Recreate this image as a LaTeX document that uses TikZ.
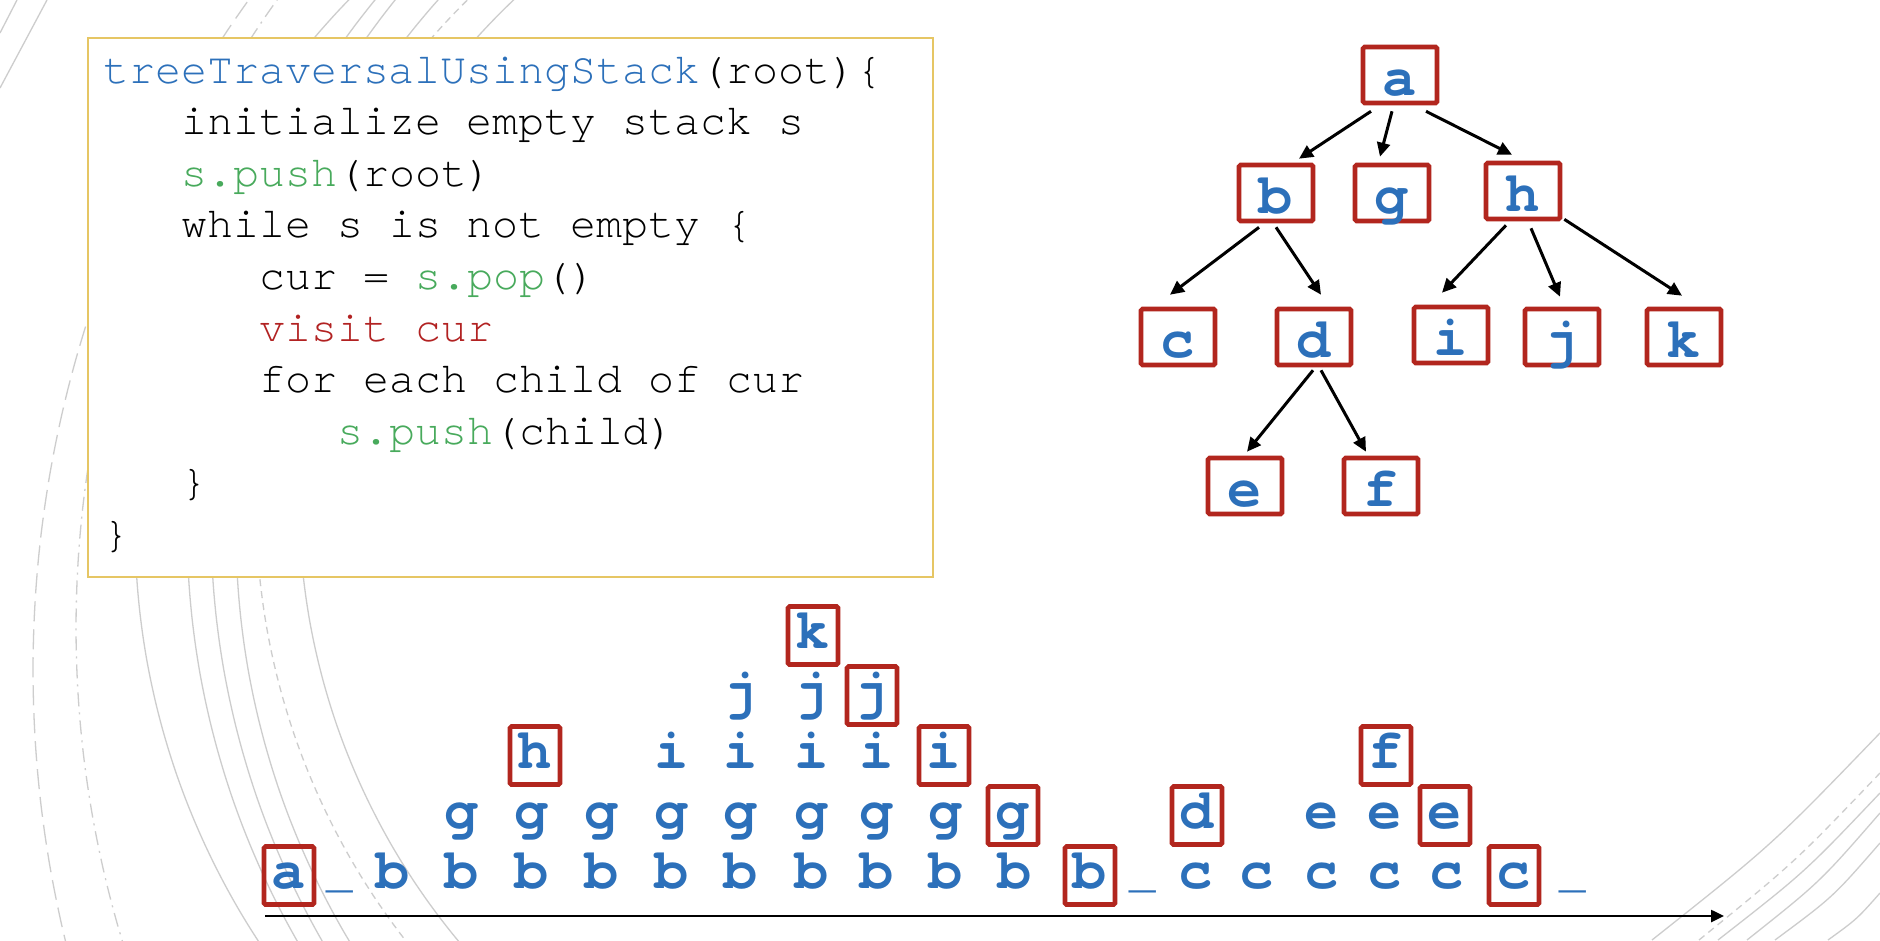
\documentclass[tikz,border=0pt]{standalone}
\usepackage{fontspec}
\newfontfamily\codefont{texgyrecursor}[Extension=.otf, UprightFont=*-regular, BoldFont=*-bold, ItalicFont=*-italic, BoldItalicFont=*-bolditalic]
\usetikzlibrary{arrows.meta,calc}
\definecolor{cblue}{RGB}{44,112,186}
\definecolor{cgreen}{RGB}{72,170,92}
\definecolor{cred}{RGB}{178,34,34}
\definecolor{bred}{RGB}{178,38,30}
\definecolor{gold}{RGB}{230,198,100}
\definecolor{arcgrey}{RGB}{205,205,205}
\begin{document}
\begin{tikzpicture}[x=1pt,y=-1pt,
  codeline/.style={anchor=base west, inner sep=0pt, font={\codefont\fontsize{43.3}{52}\selectfont}},
  stk/.style={anchor=base, inner sep=0pt, text=cblue, font={\codefont\bfseries\fontsize{57}{60}\selectfont}},
  under/.style={anchor=base, inner sep=0pt, text=cblue, font={\codefont\fontsize{44}{50}\selectfont}},
  boxed/.style={stk, draw=bred, line width=4.6pt, rounded corners=1.5pt, text height=38pt, text depth=13pt, inner ysep=3.5pt, minimum width=50pt},
  tnode/.style={stk, draw=bred, line width=4.6pt, rounded corners=1.5pt, text height=44pt, text depth=4pt, inner ysep=4pt, minimum width=74pt},
  tarrow/.style={line width=3pt, -{Triangle[length=14pt,width=13pt]}},
  arcl/.style={draw=arcgrey, line width=1.3pt},
  arcdash/.style={arcl, dash pattern=on 20pt off 8pt},
  arcdashdot/.style={arcl, dash pattern=on 14pt off 6pt on 2pt off 6pt},
  arcshort/.style={arcl, dash pattern=on 7pt off 5pt}
]
\useasboundingbox (0,0) rectangle (1880,940);
\fill[white] (0,0) rectangle (1880,940);

% decorative background arcs
\begin{scope}
\clip (0,0) rectangle (1880,940);
\draw[arcdash] plot[domain=-90:90,samples=120,smooth] ({1182-1149*cos(\x)},{670+1149*sin(\x)});
\draw[arcdashdot] plot[domain=-90:90,samples=120,smooth] ({1158-1082*cos(\x)},{628+1082*sin(\x)});
\draw[arcl] plot[domain=-90:90,samples=100,smooth] ({892-757*cos(\x)},{527+757*sin(\x)});
\draw[arcl] plot[domain=-90:90,samples=100,smooth] ({1020-833*cos(\x)},{527+833*sin(\x)});
\draw[arcl] plot[domain=-90:90,samples=100,smooth] ({1049-838*cos(\x)},{524+838*sin(\x)});
\draw[arcl] plot[domain=-90:90,samples=100,smooth] ({1035-799*cos(\x)},{531+799*sin(\x)});
\draw[arcshort] plot[domain=-90:90,samples=100,smooth] ({965-709*cos(\x)},{505+709*sin(\x)});
\draw[arcl] plot[domain=-90:90,samples=100,smooth] ({989-690*cos(\x)},{500+690*sin(\x)});
\draw[arcl] (0,88) -- (47,0);
\draw[arcl] (0,33) -- (17,0);
\draw[arcl] (1652,940) .. controls (1773,844) .. (1880,733);
\draw[arcshort] (1699,940) .. controls (1795,862) .. (1880,773);
\draw[arcl] (1718,940) .. controls (1805,872) .. (1880,793);
\draw[arcl] (1747,940) .. controls (1820,882) .. (1880,813);
\draw[arcl] (1775,940) .. controls (1833,897) .. (1880,843);
\draw[arcl] (1828,940) .. controls (1857,919) .. (1880,893);
\end{scope}

% code box
\node[draw=gold, line width=2pt, fill=white, inner sep=0pt, minimum width=845pt, minimum height=539pt, anchor=north west] (codebox) at (87,37) {};
\node[codeline] (l1) at (103,83) {\textcolor{cblue}{treeTraversalUsingStack}(root)\{};
\node[codeline] (l2) at (181,134.6) {initialize empty stack s};
\node[codeline] (l3) at (181,186.2) {\textcolor{cgreen}{s.push}(root)};
\node[codeline] (l4) at (181,237.8) {while s is not empty \{};
\node[codeline] (l5) at (259,289.4) {cur = \textcolor{cgreen}{s.pop}()};
\node[codeline] (l6) at (259,341) {\textcolor{cred}{visit cur}};
\node[codeline] (l7) at (259,392.6) {for each child of cur};
\node[codeline] (l8) at (337,444.2) {\textcolor{cgreen}{s.push}(child)};
\node[codeline] (l9) at (181,495.8) {\}};
\node[codeline] (l10) at (103,547.4) {\}};

% tree
\node[tnode] (a) at (1400,95) {a};
\node[tnode] (b) at (1276,213) {b};
\node[tnode] (g) at (1392,213) {g};
\node[tnode] (h) at (1523,211) {h};
\node[tnode] (c) at (1178,357) {c};
\node[tnode] (d) at (1314,357) {d};
\node[tnode] (i) at (1451,355) {i};
\node[tnode] (j) at (1562,357) {j};
\node[tnode] (k) at (1684,357) {k};
\node[tnode] (e) at (1245,506) {e};
\node[tnode] (f) at (1381,506) {f};

\draw[tarrow] ($(a.south)+(-29,6)$) -- ($(b.north)+(23,-4)$);
\draw[tarrow] ($(a.south)+(-8,6)$) -- ($(g.north)+(-12,-6)$);
\draw[tarrow] ($(a.south)+(26,6)$) -- ($(h.north)+(-11,-6)$);
\draw[tarrow] ($(b.south)+(-17,4)$) -- ($(c.north)+(-8,-12)$);
\draw[tarrow] ($(b.south)+(0,4)$) -- ($(d.north)+(7,-12)$);
\draw[tarrow] ($(h.south)+(-17,4)$) -- ($(i.north)+(-9,-12)$);
\draw[tarrow] ($(h.south)+(8,7)$) -- ($(j.north)+(-2,-10)$);
\draw[tarrow] ($(h.south east)+(2,-2)$) -- ($(k.north)+(-2,-11)$);
\draw[tarrow] ($(d.south)+(-1,3)$) -- ($(e.north)+(2,-4)$);
\draw[tarrow] ($(d.south)+(7,3)$) -- ($(f.north)+(-15,-4)$);

% stack trace
\foreach \n/\x/\r/\t in {
  c2/393/0/b,
  c3/462/0/b, c3/462/1/g,
  c4/532/0/b, c4/532/1/g,
  c5/602/0/b, c5/602/1/g,
  c6/672/0/b, c6/672/1/g, c6/672/2/i,
  c7/741/0/b, c7/741/1/g, c7/741/2/i, c7/741/3/j,
  c8/812/0/b, c8/812/1/g, c8/812/2/i, c8/812/3/j,
  c9/877/0/b, c9/877/1/g, c9/877/2/i,
  c10/946/0/b, c10/946/1/g,
  c11/1015/0/b,
  c14/1196/0/c, c15/1257/0/c,
  c16/1322/0/c, c16/1322/1/e,
  c17/1385/0/c, c17/1385/1/e,
  c18/1447/0/c}
  \node[stk] (\n-\r) at (\x,{888-60*\r}) {\t};

\foreach \n/\x in {c1/340, c13/1143, c20/1573}
  \node[under] (\n-0) at (\x,887) {\_};

\foreach \n/\x/\r/\t in {
  c0/289/0/a, c4/535/2/h, c8/813/4/k, c9/872/3/j, c10/944/2/i,
  c11/1013/1/g, c12/1090/0/b, c14/1197/1/d, c17/1386/2/f,
  c18/1445/1/e, c19/1514/0/c}
  \node[boxed] (\n-\r) at (\x,{888-60*\r}) {\t};

\coordinate (ax0) at (265,916);
\coordinate (ax1) at (1724,916);
\draw[line width=2.5pt, -{Triangle[length=13pt,width=12pt]}] (ax0) -- (ax1);
\end{tikzpicture}
\end{document}
